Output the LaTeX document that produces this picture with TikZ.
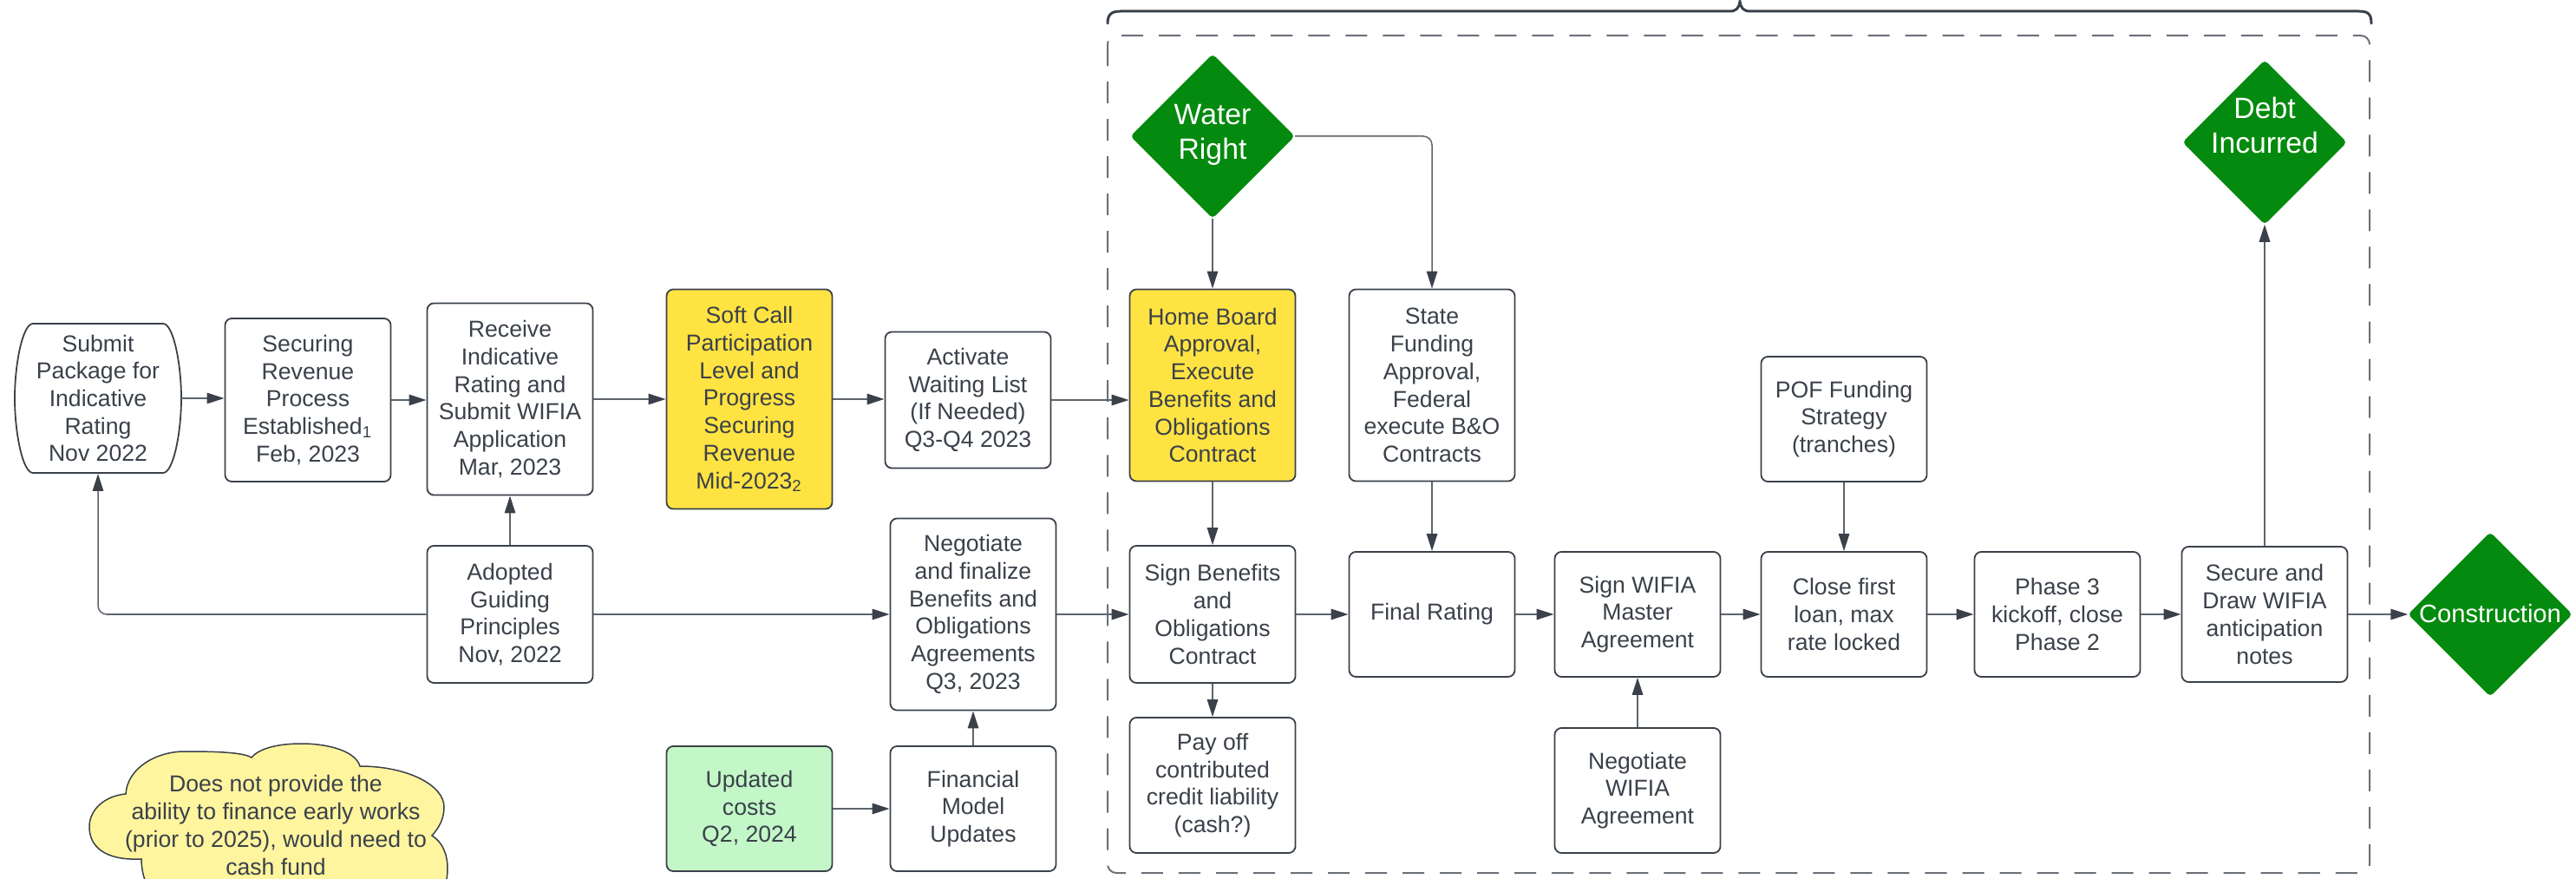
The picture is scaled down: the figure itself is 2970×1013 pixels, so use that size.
\documentclass[tikz,border=0pt]{standalone}
\usepackage{fontspec}
\setmainfont{Liberation Sans}
\usetikzlibrary{arrows.meta,shapes.geometric}
\definecolor{ink}{HTML}{3A414A}
\definecolor{linec}{HTML}{5E646C}
\definecolor{ylw}{HTML}{FFE342}
\definecolor{grn}{HTML}{048A0E}
\definecolor{lgrn}{HTML}{C3F7C8}
\definecolor{cloudy}{HTML}{FFF59F}
\definecolor{dashc}{HTML}{6B7079}
\begin{document}
\begin{tikzpicture}[x=0.01cm,y=-0.01cm,
  box/.style={draw=ink, fill=white, line width=0.018cm, rounded corners=0.08cm,
    minimum width=1.91cm, inner sep=0pt, align=center, text=ink,
    font=\fontsize{7.57pt}{9.02pt}\selectfont},
  dia/.style={diamond, draw=grn, fill=grn, rounded corners=0.04cm, inner sep=0pt,
    minimum width=1.88cm, minimum height=1.88cm},
  dtext/.style={align=center, text=white, inner sep=0pt,
    font=\fontsize{9.6pt}{11.4pt}\selectfont},
  arr/.style={draw=linec, line width=0.015cm,
    -{Triangle[length=0.2cm,width=0.125cm,color=ink]}}
]
\useasboundingbox (0,0) rectangle (2970,1013);
\clip (0,0) rectangle (2970,1013);

% container and brace
\draw[dashc, line width=0.02cm, dash pattern=on 0.25cm off 0.18cm, rounded corners=0.1cm]
  (1277,41) rectangle (2732,1006);
\draw[ink, line width=0.03cm, line cap=round]
  (1277,27) .. controls (1277,16) and (1282,13) .. (1292,13) -- (1994,13)
  .. controls (2002,13) and (2005,9) .. (2006,2)
  .. controls (2007,9) and (2010,13) .. (2018,13) -- (2720,13)
  .. controls (2730,13) and (2734,16) .. (2734,27);

% cloud note
\draw[ink, fill=cloudy, line width=0.015cm]
  (163,990) .. controls (120,992) and (103,975) .. (103,953)
  .. controls (103,932) and (122,917) .. (145,915)
  .. controls (147,885) and (180,866) .. (213,866)
  .. controls (250,866) and (280,867) .. (290,873)
  .. controls (300,861) and (325,857) .. (347,857)
  .. controls (380,857) and (410,866) .. (415,883)
  .. controls (470,883) and (512,905) .. (512,930)
  .. controls (512,945) and (505,955) .. (498,963)
  .. controls (510,970) and (516,985) .. (516,1000)
  .. controls (516,1020) and (510,1040) .. (490,1050)
  .. controls (400,1070) and (250,1070) .. (190,1045)
  .. controls (172,1035) and (163,1010) .. (163,990) -- cycle;
\node[align=center, text=ink, inner sep=0pt, font=\fontsize{7.57pt}{9.02pt}\selectfont] (cloudt) at (318,951)
  {Does not provide the\\ability to finance early works\\(prior to 2025), would need to\\cash fund};

% top row
\draw[ink, fill=white, line width=0.018cm]
  (38,373) -- (188,373) .. controls (200,373) and (209,420) .. (209,459)
  .. controls (209,498) and (200,545) .. (188,545) -- (38,545)
  .. controls (26,545) and (17,498) .. (17,459)
  .. controls (17,420) and (26,373) .. (38,373) -- cycle;
\node[box, draw=none, fill=none, minimum height=1.72cm] (sub) at (113,459)
  {Submit\\Package for\\Indicative\\Rating\\Nov 2022};
\node[box, minimum height=1.88cm] (sec) at (355,461)
  {Securing\\Revenue\\Process\\Established\textsubscript{1}\\Feb, 2023};
\node[box, minimum height=2.21cm] (rec) at (588,460)
  {Receive\\Indicative\\Rating and\\Submit WIFIA\\Application\\Mar, 2023};
\node[box, fill=ylw, minimum height=2.53cm] (soft) at (864,460)
  {Soft Call\\Participation\\Level and\\Progress\\Securing\\Revenue\\Mid-2023\textsubscript{2}};
\node[box, minimum height=1.57cm] (act) at (1116,461)
  {Activate\\Waiting List\\(If Needed)\\Q3-Q4 2023};
\node[box, fill=ylw, minimum height=2.21cm] (hb) at (1398,444)
  {Home Board\\Approval,\\Execute\\Benefits and\\Obligations\\Contract};
\node[box, minimum height=2.21cm] (state) at (1651,444)
  {State\\Funding\\Approval,\\Federal\\execute B\&O\\Contracts};
\node[box, minimum height=1.44cm] (pof) at (2126,483)
  {POF Funding\\Strategy\\(tranches)};

% middle row
\node[box, minimum height=1.58cm] (ado) at (588,708)
  {Adopted\\Guiding\\Principles\\Nov, 2022};
\node[box, minimum height=2.21cm] (neg) at (1122,708)
  {Negotiate\\and finalize\\Benefits and\\Obligations\\Agreements\\Q3, 2023};
\node[box, minimum height=1.58cm] (sbo) at (1398,708)
  {Sign Benefits\\and\\Obligations\\Contract};
\node[box, minimum height=1.44cm] (fin) at (1651,708) {Final Rating};
\node[box, minimum height=1.44cm] (swm) at (1888,708)
  {Sign WIFIA\\Master\\Agreement};
\node[box, minimum height=1.44cm] (cfl) at (2126,708)
  {Close first\\loan, max\\rate locked};
\node[box, minimum height=1.44cm] (ph3) at (2372,708)
  {Phase 3\\kickoff, close\\Phase 2};
\node[box, minimum height=1.56cm] (sdw) at (2611,708)
  {Secure and\\Draw WIFIA\\anticipation\\notes};

% bottom row
\node[box, fill=lgrn, minimum height=1.44cm] (upd) at (864,932)
  {Updated\\costs\\Q2, 2024};
\node[box, minimum height=1.44cm] (fmu) at (1122,932)
  {Financial\\Model\\Updates};
\node[box, minimum height=1.56cm] (pay) at (1398,905)
  {Pay off\\contributed\\credit liability\\(cash?)};
\node[box, minimum height=1.44cm] (nwa) at (1888,911)
  {Negotiate\\WIFIA\\Agreement};

% diamonds
\node[dia] (wr) at (1398,157) {};
\node[dtext] (wrt) at (1398,155) {Water\\Right};
\node[dia] (debt) at (2611,164) {};
\node[dtext] (debtt) at (2611,144) {Debt\\Incurred};
\node[dia] (cons) at (2871,708) {};
\node[dtext, font=\fontsize{8.3pt}{10pt}\selectfont] (const) at (2871,707) {Construction};

% connectors
\draw[arr] (sub.east) -- (sub.east -| sec.west);
\draw[arr] (sec.east) -- (sec.east -| rec.west);
\draw[arr] (rec.east) -- (rec.east -| soft.west);
\draw[arr] (soft.east) -- (soft.east -| act.west);
\draw[arr] (act.east) -- (act.east -| hb.west);
\draw[arr] (ado.north) -- (rec.south);
\draw[arr, rounded corners=0.1cm] (ado.west) -| (sub.south);
\draw[arr] (ado.east) -- (neg.west);
\draw[arr] (neg.east) -- (sbo.west);
\draw[arr] (upd.east) -- (fmu.west);
\draw[arr] (fmu.north) -- (neg.south);
\draw[arr] (wr.south) -- (hb.north);
\draw[arr, rounded corners=0.1cm] (wr.east) -| (state.north);
\draw[arr] (hb.south) -- (sbo.north);
\draw[arr] (state.south) -- (fin.north);
\draw[arr] (sbo.south) -- (pay.north);
\draw[arr] (sbo.east) -- (fin.west);
\draw[arr] (fin.east) -- (swm.west);
\draw[arr] (nwa.north) -- (swm.south);
\draw[arr] (swm.east) -- (cfl.west);
\draw[arr] (pof.south) -- (cfl.north);
\draw[arr] (cfl.east) -- (ph3.west);
\draw[arr] (ph3.east) -- (sdw.west);
\draw[arr] (sdw.east) -- (cons.west);
\draw[arr] (sdw.north) -- (debt.south);
\end{tikzpicture}
\end{document}
